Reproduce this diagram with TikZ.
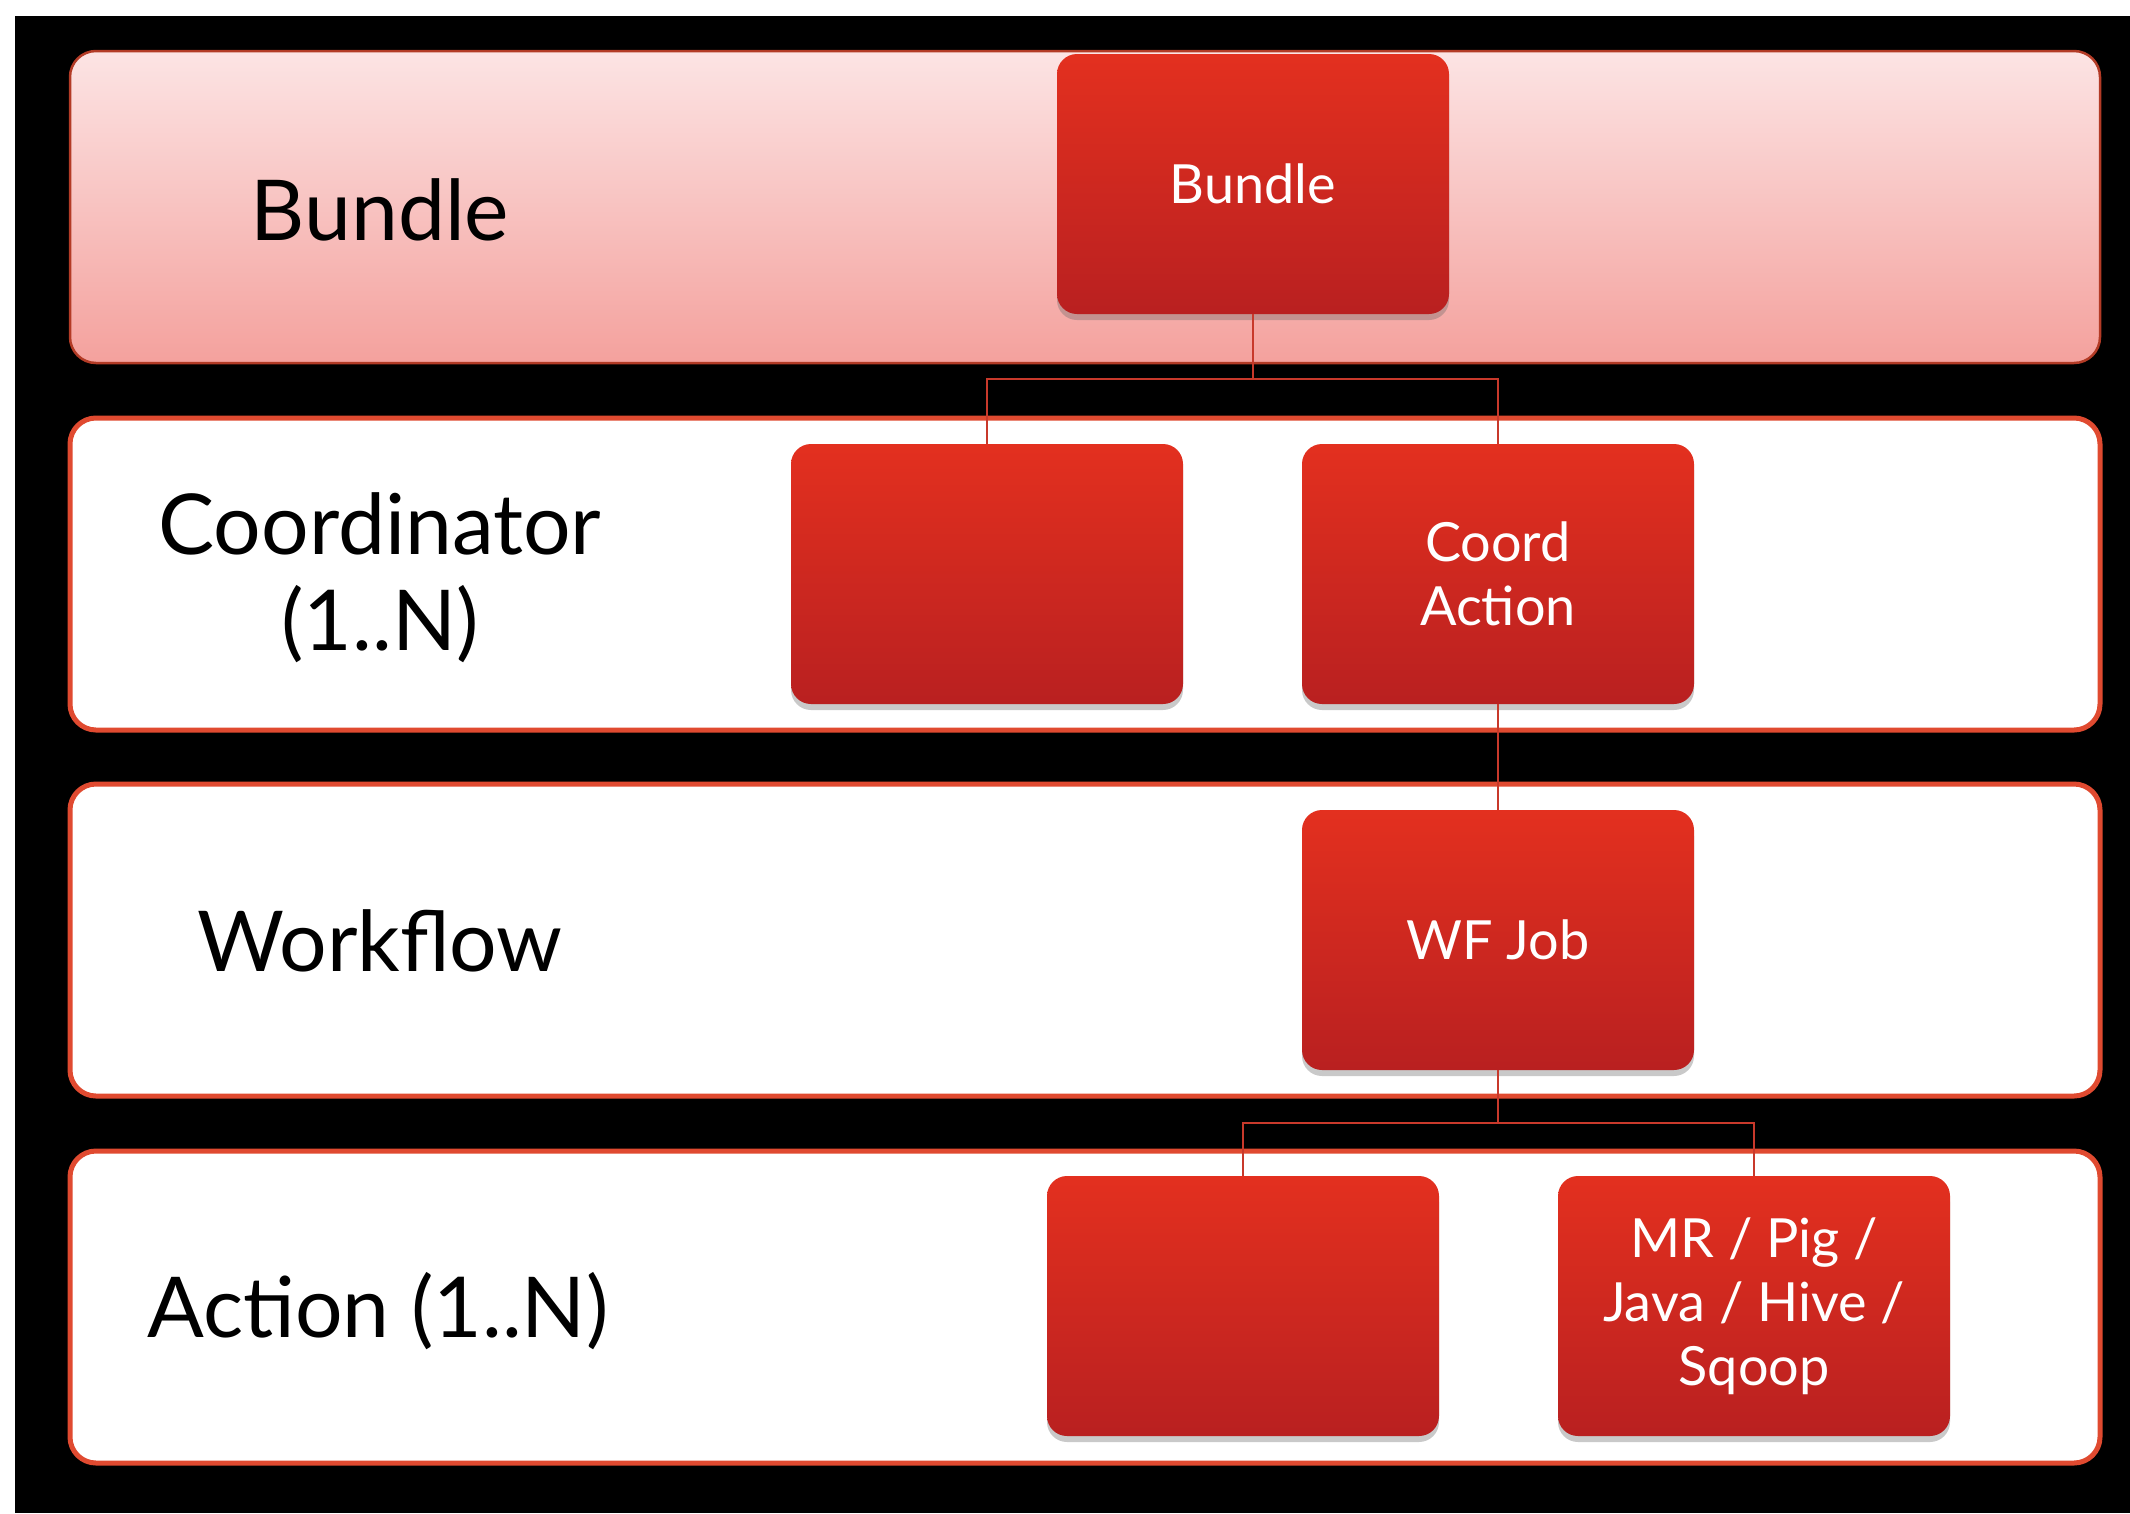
\documentclass[tikz,border=0pt]{standalone}
\usepackage{fontspec}
\setmainfont{Lato}
\usetikzlibrary{shadows,calc}
\definecolor{bandline}{HTML}{E04A30}
\definecolor{boxtop}{HTML}{E3301F}
\definecolor{boxbot}{HTML}{B92020}
\definecolor{pinktop}{HTML}{FCE4E4}
\definecolor{pinkbot}{HTML}{F4A19D}
\definecolor{linkred}{HTML}{C8392B}
\tikzset{
  band/.style={draw=bandline, line width=5pt, rounded corners=26pt, fill=white,
    minimum width=2030pt, minimum height=312pt, inner sep=0pt},
  pinkband/.style={band, draw=bandline!80!black, line width=2.5pt, top color=pinktop, bottom color=pinkbot},
  redbox/.style={rounded corners=20pt, top color=boxtop, bottom color=boxbot,
    minimum width=392pt, minimum height=260pt, inner sep=0pt,
    text=white, align=center, font=\fontsize{54}{64}\selectfont,
    drop shadow={shadow xshift=0pt, shadow yshift=-6pt, opacity=0.35, fill=black!60}},
  lvl/.style={text=black, align=center, font=\fontsize{84}{96}\selectfont},
  link/.style={draw=linkred, line width=2.2pt}
}
\begin{document}
\begin{tikzpicture}[x=1pt,y=-1pt]
\useasboundingbox (0,0) rectangle (2130,1513);
\fill[white] (0,0) rectangle (2130,1513);
\fill[black] (15,16) rectangle (2130,1513);

% bands
\node[pinkband] (b1) at (1085,207) {};
\node[band] (b2) at (1085,574) {};
\node[band] (b3) at (1085,940) {};
\node[band] (b4) at (1085,1307) {};

% level labels
\node[lvl] (lb1) at (380,210) {Bundle};
\node[lvl] (lb2) at (380,578) {Coordinator\\(1..N)};
\node[lvl] (lb3) at (380,941) {Workflow};
\node[lvl] (lb4) at (378,1311) {Action (1..N)};

% boxes
\node[redbox] (bundle) at (1253,184) {Bundle};
\node[redbox] (cempty) at (987,574) {};
\node[redbox] (caction) at (1498,574) {Coord\\Action};
\node[redbox] (wfjob) at (1498,940) {WF Job};
\node[redbox] (aempty) at (1243,1306) {};
\node[redbox] (mr) at (1754,1306) {MR / Pig /\\Java / Hive /\\Sqoop};

% junctions
\coordinate (j1) at (0,379);
\coordinate (j2) at (0,1123);

% connectors
\draw[link] (bundle.south) -- (bundle.south |- j1) -| (cempty.north);
\draw[link] (bundle.south |- j1) -| (caction.north);
\draw[link] (caction.south) -- (wfjob.north);
\draw[link] (wfjob.south) -- (wfjob.south |- j2) -| (aempty.north);
\draw[link] (wfjob.south |- j2) -| (mr.north);
\end{tikzpicture}
\end{document}
